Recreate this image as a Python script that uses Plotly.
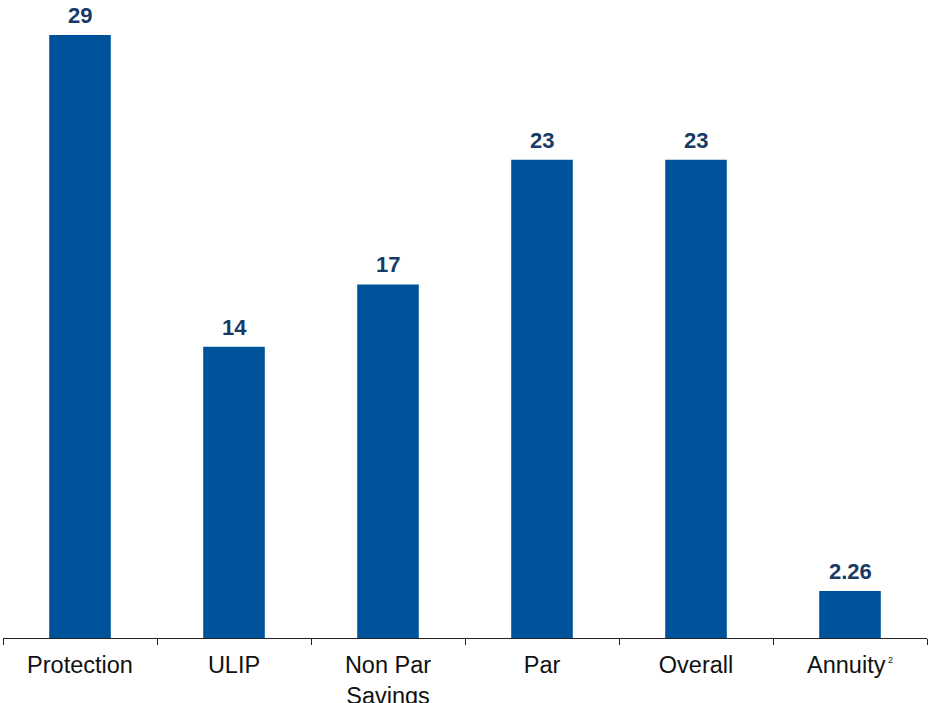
import plotly.graph_objects as go

categories = ["Protection", "ULIP", "Non Par<br>Savings", "Par", "Overall",
              "Annuity<sup><span style='font-size:9px'> 2</span></sup>"]
values = [29, 14, 17, 23, 23, 2.26]
value_labels = ["29", "14", "17", "23", "23", "2.26"]

bar_color = "#00539b"
label_color = "#173a66"

fig = go.Figure()
fig.add_trace(go.Bar(
    x=categories, y=values,
    marker=dict(color=bar_color, line=dict(width=0)),
    width=0.4,
    hoverinfo="skip",
))

for c, v, t in zip(categories, values, value_labels):
    fig.add_annotation(x=c, y=v, text="<b>%s</b>" % t, showarrow=False,
                       yanchor="bottom", yshift=5,
                       font=dict(family="Liberation Sans, Arial", size=22, color=label_color))

fig.update_layout(
    width=930, height=703,
    margin=dict(l=3, r=3, t=5, b=65),
    paper_bgcolor="white", plot_bgcolor="white",
    showlegend=False,
    xaxis=dict(
        type="category", automargin=False,
        showline=True, linecolor="#222222", linewidth=1,
        ticks="outside", tickson="boundaries", ticklen=6, tickcolor="#222222",
        ticklabelstandoff=6,
        tickfont=dict(family="Liberation Sans, Arial", size=23.5, color="#111111"),
        showgrid=False, zeroline=False,
    ),
    yaxis=dict(visible=False, range=[0, 30.44], showgrid=False, zeroline=False),
)

fig.write_html("out.html", config={"displayModeBar": False},
               post_script="document.body.style.margin='0';")
